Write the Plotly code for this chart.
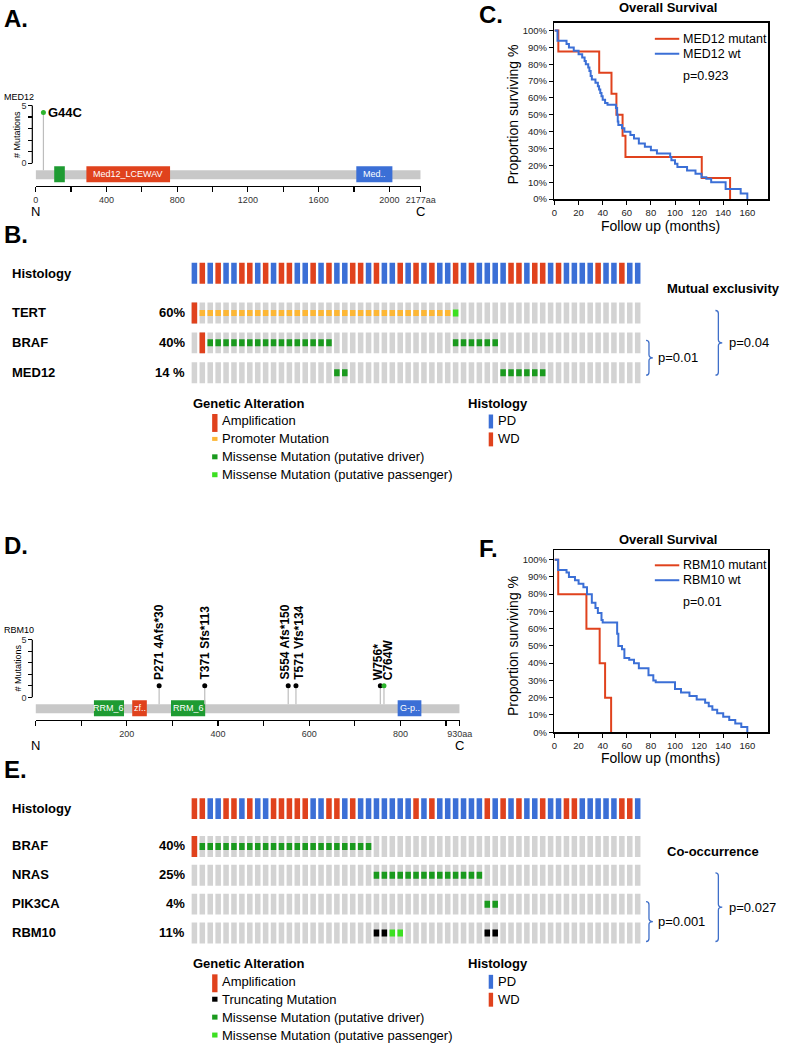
import plotly.graph_objects as go

W, H = 792, 1050
FONT = "Liberation Sans, Arial, Helvetica, sans-serif"


def px(x):
    return x / W


def py(y):
    return 1 - y / H


RED = "#E0421D"
BLUE = "#3B6FD6"
GRAY = "#D3D3D3"
ORANGE = "#FDB735"
GREEN_D = "#1A9A1E"
GREEN_P = "#3CE021"
BRACE_C = "#3F6FC9"
PROT_GRAY = "#C8C8C8"
DOM_GREEN = "#1E9B32"

# ---------------- DATA ----------------
# Panel A - MED12 lollipop
med12_length = 2177
med12_dom_names = ["", "Med12_LCEWAV", "Med.."]
med12_dom_start = [105, 287, 1813]
med12_dom_end = [165, 760, 2017]
med12_dom_kind = ["green", "red", "blue"]
med12_mut_label = ["G44C"]
med12_mut_pos = [44]
med12_mut_count = [4.4]
med12_mut_kind = ["missense"]
med12_ticks = [0, 200, 400, 600, 800, 1000, 1200, 1400, 1600, 1800, 2000, 2177]
med12_ticktext = ["0", "", "400", "", "800", "", "1200", "", "1600", "", "2000", "2177aa"]

# Panel D - RBM10 lollipop
rbm10_length = 930
rbm10_dom_names = ["RRM_6", "zf..", "RRM_6", "G-p.."]
rbm10_dom_start = [128, 212, 297, 794]
rbm10_dom_end = [194, 244, 372, 846]
rbm10_dom_kind = ["green", "red", "green", "blue"]
rbm10_mut_label = ["P271 4Afs*30", "T371 Sfs*113", "S554 Afs*150", "T571 Vfs*134", "W756*", "C764W"]
rbm10_mut_pos = [271, 371, 554, 571, 756, 764]
rbm10_mut_count = [1, 1, 1, 1, 1, 1]
rbm10_mut_kind = ["trunc", "trunc", "trunc", "trunc", "trunc", "missense"]
rbm10_label_shift = [0, 0, -3, 3, -3, 4]
rbm10_ticks = [0, 100, 200, 300, 400, 500, 600, 700, 800, 900, 930]
rbm10_ticktext = ["", "", "200", "", "400", "", "600", "", "800", "", "930aa"]

# Panel C - Overall survival MED12
c_mut_t = [0, 3.2, 37.1, 47.3, 51.4, 56.5, 58.9, 122.2, 145.7]
c_mut_s = [100, 87.5, 75, 62.5, 50, 37.5, 25, 12.5, 0]
c_wt_t = [0, 2.5, 10, 12, 16, 20, 23, 25, 26, 28, 29, 30, 31, 34, 36, 37, 38, 39, 40, 42,
          44, 51, 52, 52.5, 53, 56, 58, 63, 66, 70, 75, 80, 85, 96, 97, 100, 102, 110, 117, 122,
          126, 130, 142, 154.5, 160]
c_wt_s = [100, 94, 92, 90, 88, 86, 84, 82, 80, 78, 76, 73, 71, 69, 67, 65, 63, 61, 59, 57,
          56, 54, 50, 46, 44, 42, 40, 38, 36, 33, 31, 29, 27, 25, 23, 21, 19, 17, 15, 13,
          12, 10, 6, 3.3, 0]
c_names = ["MED12 mutant", "MED12 wt"]
c_p = "p=0.923"

# Panel F - Overall survival RBM10
f_mut_t = [0, 3.1, 26.5, 37.5, 42, 47]
f_mut_s = [100, 80, 60, 40, 20, 0]
f_wt_t = [0, 3, 10, 12, 17, 20, 24, 27, 31, 34, 36, 39, 40, 52, 53, 56, 58, 62, 66, 70,
          78, 82, 84, 100, 105, 112, 118, 125, 128, 131, 135, 140, 145, 150, 155, 160]
f_wt_s = [100, 94, 92.5, 90, 88, 86, 84, 80, 75, 72, 69, 65, 63.5, 57, 50, 48, 43, 42, 40, 37,
          33, 30, 29, 25, 23, 21, 19, 17, 15, 13, 11, 9, 7, 5, 3, 0]
f_names = ["RBM10 mutant", "RBM10 wt"]
f_p = "p=0.01"

km_xticks = [0, 20, 40, 60, 80, 100, 120, 140, 160]
km_yticks = [0, 10, 20, 30, 40, 50, 60, 70, 80, 90, 100]

# Panel B - oncoprint (P = PD, W = WD; A amp, P promoter, M missense driver, m passenger, T truncating)
B_hist = "PWPWPPWWPWPWWPPWPWPPWWPWPPWPWPWPPWPWPPPPWWPWWPWPPPPWPPWPP"
B_genes = ["TERT", "BRAF", "MED12"]
B_pcts = ["60%", "40%", "14 %"]
B_rows = [
    "APPPPPPPPPPPPPPPPPPPPPPPPPPPPPPPPm.......................",
    ".AMMMMMMMMMMMMMMMM...............MMMMMM..................",
    "..................MM...................MMMMMM............",
]
B_pair_p = "p=0.01"
B_triple_p = "p=0.04"

# Panel E - oncoprint
E_hist = "WWPPWWPWPPWWWWWPPWWPWPPPPPPPWPWPPPPPPWPWPWPPWPPWWPPPPPWWP"
E_genes = ["BRAF", "NRAS", "PIK3CA", "RBM10"]
E_pcts = ["40%", "25%", "4%", "11%"]
E_rows = [
    "AMMMMMMMMMMMMMMMMMMMMMM..................................",
    ".......................MMMMMMMMMMMMMM....................",
    ".....................................MM..................",
    ".......................TTmm..........TT..................",
]
E_pair_p = "p=0.001"
E_triple_p = "p=0.027"

# ---------------- FIGURE ----------------
fig = go.Figure()
shapes = []
ann = []


def text(x, y, s, size=13, bold=False, color="black", xanchor="left", yanchor="middle",
         xref="paper", yref="paper", angle=0, xshift=0, yshift=0):
    if bold:
        s = "<b>" + s + "</b>"
    ann.append(dict(x=x, y=y, xref=xref, yref=yref, text=s, showarrow=False,
                    font=dict(size=size, color=color, family=FONT), xanchor=xanchor,
                    yanchor=yanchor, textangle=angle, xshift=xshift, yshift=yshift,
                    borderpad=0))


DOMC = {"green": DOM_GREEN, "red": RED, "blue": BLUE}

BAR_TOP, BAR_BOT = -0.6, -1.38
DOM_TOP, DOM_BOT = -0.26, -1.64


def lollipop(xr, yr, length, names, starts, ends, kinds, labels, pos, counts, mkinds,
             vertical_labels, shifts=None):
    shapes.append(dict(type="rect", xref=xr, yref=yr, x0=0, x1=length, y0=BAR_BOT, y1=BAR_TOP,
                       fillcolor=PROT_GRAY, line=dict(width=0), layer="below"))
    for nm, s, e, k in zip(names, starts, ends, kinds):
        shapes.append(dict(type="rect", xref=xr, yref=yr, x0=s, x1=e, y0=DOM_BOT, y1=DOM_TOP,
                           fillcolor=DOMC[k], line=dict(width=0), layer="below"))
        if nm:
            text((s + e) / 2, (DOM_TOP + DOM_BOT) / 2, nm, size=9, color="white",
                 xanchor="center", xref=xr, yref=yr)
    for p, c in zip(pos, counts):
        fig.add_trace(go.Scatter(x=[p, p], y=[c, BAR_TOP], mode="lines",
                                 line=dict(color="#BDBDBD", width=1.2), xaxis=xr, yaxis=yr,
                                 showlegend=False, hoverinfo="skip"))
    fig.add_trace(go.Scatter(x=pos, y=counts, mode="markers",
                             marker=dict(size=5, color=[("#000000" if k == "trunc" else "#2DB42D") for k in mkinds]),
                             xaxis=xr, yaxis=yr, showlegend=False, hoverinfo="skip"))
    for i, (lb, p, c) in enumerate(zip(labels, pos, counts)):
        if vertical_labels:
            text(p, c, lb, size=12, bold=True, xanchor="center", yanchor="bottom",
                 xref=xr, yref=yr, angle=-90, yshift=5, xshift=shifts[i])
        else:
            text(p, c, lb, size=13, bold=True, xanchor="left", xref=xr, yref=yr, xshift=4)


lollipop("x", "y", med12_length, med12_dom_names, med12_dom_start, med12_dom_end,
         med12_dom_kind, med12_mut_label, med12_mut_pos, med12_mut_count, med12_mut_kind, False)
lollipop("x2", "y2", rbm10_length, rbm10_dom_names, rbm10_dom_start, rbm10_dom_end,
         rbm10_dom_kind, rbm10_mut_label, rbm10_mut_pos, rbm10_mut_count, rbm10_mut_kind, True,
         rbm10_label_shift)


def lolli_axes(x0, x1, zero_y, length, ticks, ticktext, anchor):
    unit = 11.6
    top_px, bot_px = zero_y - 5.5 * unit, zero_y + 23
    xa = dict(domain=[px(x0), px(x1)], range=[0, length], anchor=anchor, showline=True,
              linecolor="black", linewidth=1.2, ticks="outside", ticklen=5, tickwidth=1.2,
              tickcolor="black", tickvals=ticks, ticktext=ticktext,
              tickfont=dict(size=9, color="#333", family=FONT), showgrid=False, zeroline=False,
              fixedrange=True)
    ya = dict(domain=[py(bot_px), py(top_px)], range=[-23 / unit, 5.5], anchor="free",
              position=px(30), showline=False, ticks="outside", ticklen=4, tickwidth=1.2,
              tickcolor="black", tickvals=[0, 1, 2, 3, 4, 5], ticktext=["0", "", "", "", "", "5"],
              tickfont=dict(size=9, color="#333", family=FONT), showgrid=False, zeroline=False,
              fixedrange=True)
    return xa, ya


xa1, ya1 = lolli_axes(33.4, 427.4, 164, med12_length, med12_ticks, med12_ticktext, "y")
xa2, ya2 = lolli_axes(33.3, 467.3, 700.7, rbm10_length, rbm10_ticks, rbm10_ticktext, "y2")
for yr in ["y", "y2"]:
    shapes.append(dict(type="line", xref="paper", yref=yr, x0=px(30), x1=px(30), y0=0, y1=5,
                       line=dict(color="black", width=1.2)))

text(px(0), py(97), "MED12", size=9)
text(px(15), py(135), "# Mutations", size=9, xanchor="center", angle=-90)
text(px(0), py(633), "RBM10", size=9)
text(px(15), py(671), "# Mutations", size=9, xanchor="center", angle=-90)
text(0, py(213), "N", size=13, xanchor="center", xref="x")
text(med12_length, py(213), "C", size=13, xanchor="center", xref="x")
text(0, py(749), "N", size=13, xanchor="center", xref="x2")
text(rbm10_length, py(749.5), "C", size=13, xanchor="center", xref="x2")


# ---------------- KM panels ----------------
def km(xr, yr, mt, ms, wt, ws):
    fig.add_trace(go.Scatter(x=mt, y=ms, mode="lines", line=dict(color=RED, width=2, shape="hv"),
                             xaxis=xr, yaxis=yr, showlegend=False, hoverinfo="skip"))
    fig.add_trace(go.Scatter(x=wt, y=ws, mode="lines", line=dict(color=BLUE, width=2, shape="hv"),
                             xaxis=xr, yaxis=yr, showlegend=False, hoverinfo="skip"))


km("x3", "y3", c_mut_t, c_mut_s, c_wt_t, c_wt_s)
km("x4", "y4", f_mut_t, f_mut_s, f_wt_t, f_wt_s)


def km_axes(top_px, zero_px, hundred_px, yname, xname):
    per = (zero_px - hundred_px) / 100
    xa = dict(domain=[px(564.3), px(783)], range=[0, (783 - 564.3) / 1.2333], anchor=yname,
              showline=True, mirror=True, linecolor="black", linewidth=1.5, ticks="outside",
              ticklen=4, tickwidth=1, tickcolor="black", tickvals=km_xticks,
              tickfont=dict(size=9.5, color="#222", family=FONT), showgrid=False, zeroline=False,
              fixedrange=True)
    ya = dict(domain=[py(zero_px), py(top_px)], range=[0, (zero_px - top_px) / per],
              anchor=xname, showline=True, mirror=True, linecolor="black",
              linewidth=1.5, ticks="outside", ticklen=4, tickwidth=1, tickcolor="black",
              tickvals=km_yticks, ticktext=[f"{v}%" for v in km_yticks],
              tickfont=dict(size=9.5, color="#222", family=FONT), showgrid=False,
              zeroline=False, fixedrange=True)
    return xa, ya


xa3, ya3 = km_axes(23, 200, 30.7, "y3", "x3")
xa4, ya4 = km_axes(553, 735.7, 562.3, "y4", "x4")


def km_text(title_y, leg_y, names, ptxt, ylab_y, xlab_y):
    text(px(680), py(title_y), "Overall Survival", size=13, bold=True, xanchor="center")
    for i, (nm, col) in enumerate(zip(names, [RED, BLUE])):
        yy = leg_y + 15 * i
        shapes.append(dict(type="line", xref="paper", yref="paper", x0=px(667), x1=px(692),
                           y0=py(yy), y1=py(yy), line=dict(color=col, width=2)))
        text(px(695), py(yy), nm, size=12.5)
    text(px(695), py(leg_y + 37), ptxt, size=12.5)
    text(px(522), py(ylab_y), "Proportion surviving %", size=14, xanchor="center", angle=-90)
    text(px(673), py(xlab_y), "Follow up (months)", size=14, xanchor="center")


km_text(7.5, 39, c_names, c_p, 115, 227)
km_text(542, 568, f_names, f_p, 649, 762)


# ---------------- oncoprints ----------------
def oncoprint(xr, yr, hist, hist_top, rows, row_tops, h=21):
    n = len(hist)
    cols = list(range(n))
    fig.add_trace(go.Bar(x=cols, y=[h] * n, base=[hist_top] * n, width=0.7,
                         marker=dict(color=[BLUE if c == "P" else RED for c in hist], line_width=0),
                         xaxis=xr, yaxis=yr, showlegend=False, hoverinfo="skip"))
    for r, top in zip(rows, row_tops):
        fig.add_trace(go.Bar(x=cols, y=[h] * n, base=[top] * n, width=0.7,
                             marker=dict(color=GRAY, line_width=0), xaxis=xr, yaxis=yr,
                             showlegend=False, hoverinfo="skip"))
        for code, color, hh in [("A", RED, h), ("P", ORANGE, 6), ("M", GREEN_D, 7),
                                ("m", GREEN_P, 7), ("T", "black", 7)]:
            idx = [i for i, c in enumerate(r) if c == code]
            if idx:
                fig.add_trace(go.Bar(x=idx, y=[hh] * len(idx), base=[top + (h - hh) / 2] * len(idx),
                                     width=0.7, marker=dict(color=color, line_width=0),
                                     xaxis=xr, yaxis=yr, showlegend=False, hoverinfo="skip"))


B_hist_top, B_row_tops = 264, [304, 334, 364]
E_hist_top, E_row_tops = 802, [840, 869, 898, 927]
oncoprint("x5", "y5", B_hist, B_hist_top, B_rows, B_row_tops)
oncoprint("x6", "y6", E_hist, E_hist_top, E_rows, E_row_tops)

xa5 = dict(domain=[px(191.8), px(653.5)], range=[-0.5, 56.5], visible=False, anchor="y5",
           fixedrange=True)
ya5 = dict(domain=[py(392), py(258)], range=[392, 258], visible=False, anchor="x5",
           fixedrange=True)
xa6 = dict(domain=[px(191.8), px(653.5)], range=[-0.5, 56.5], visible=False, anchor="y6",
           fixedrange=True)
ya6 = dict(domain=[py(954), py(796)], range=[954, 796], visible=False, anchor="x6",
           fixedrange=True)


def onco_labels(hist_top, row_tops, genes, pcts):
    text(px(8), py(hist_top + 10.5), "Histology", size=13, bold=True)
    for g, p, t in zip(genes, pcts, row_tops):
        text(px(8), py(t + 10), g, size=13, bold=True)
        text(px(187), py(t + 10), p, size=13, bold=True, xanchor="right")


onco_labels(B_hist_top, B_row_tops, B_genes, B_pcts)
onco_labels(E_hist_top, E_row_tops, E_genes, E_pcts)


def icon(kind, yc):
    spec = {"amp": (RED, 18), "prom": (ORANGE, 4), "mis_d": (GREEN_D, 5), "mis_p": (GREEN_P, 5),
            "trunc": ("black", 5)}
    col, hh = spec[kind]
    shapes.append(dict(type="rect", xref="paper", yref="paper", x0=px(214), x1=px(219.5),
                       y0=py(yc + hh / 2), y1=py(yc - hh / 2), fillcolor=col, line=dict(width=0)))


def onco_legend(top, items):
    text(px(193), py(top), "Genetic Alteration", size=13, bold=True)
    for i, (kind, lab) in enumerate(items):
        yy = top + 18 * (i + 1)
        icon(kind, yy + (2 if kind == "amp" else 0))
        text(px(223), py(yy), lab, size=13)
    text(px(475), py(top), "Histology", size=13, bold=True)
    for i, (lab, col) in enumerate([("PD", BLUE), ("WD", RED)]):
        yy = top + 18 * (i + 1)
        shapes.append(dict(type="rect", xref="paper", yref="paper", x0=px(497), x1=px(501.5),
                           y0=py(yy + 7.5), y1=py(yy - 6.5), fillcolor=col, line=dict(width=0)))
        text(px(505), py(yy), lab, size=13)


onco_legend(405, [("amp", "Amplification"), ("prom", "Promoter Mutation"),
                  ("mis_d", "Missense Mutation (putative driver)"),
                  ("mis_p", "Missense Mutation (putative passenger)")])
onco_legend(968, [("amp", "Amplification"), ("trunc", "Truncating Mutation"),
                  ("mis_d", "Missense Mutation (putative driver)"),
                  ("mis_p", "Missense Mutation (putative passenger)")])


def brace(x0, ytop, ybot, w=7, c=3):
    ym = (ytop + ybot) / 2
    X = px
    Y = py
    path = (f"M {X(x0)},{Y(ytop)} Q {X(x0 + c)},{Y(ytop)} {X(x0 + c)},{Y(ytop + c)} "
            f"L {X(x0 + c)},{Y(ym - c)} Q {X(x0 + c)},{Y(ym)} {X(x0 + w)},{Y(ym)} "
            f"Q {X(x0 + c)},{Y(ym)} {X(x0 + c)},{Y(ym + c)} L {X(x0 + c)},{Y(ybot - c)} "
            f"Q {X(x0 + c)},{Y(ybot)} {X(x0)},{Y(ybot)}")
    shapes.append(dict(type="path", xref="paper", yref="paper", path=path,
                       line=dict(color=BRACE_C, width=1.3)))


brace(658, 342, 377)
brace(729, 312, 377)
text(px(669), py(359.5), B_pair_p, size=13)
text(px(742), py(344.5), B_triple_p, size=13)
text(px(678), py(290), "Mutual exclusivity", size=13, bold=True)

brace(658, 906, 946)
brace(729, 877, 946)
text(px(669), py(926), E_pair_p, size=13)
text(px(742), py(911.5), E_triple_p, size=13)
text(px(678), py(856), "Co-occurrence", size=13, bold=True)

for lab, x, y in [("A.", 0, 18.5), ("B.", 0, 236), ("C.", 486, 15), ("D.", 0, 548.5),
                  ("E.", 0, 773), ("F.", 486, 551)]:
    text(px(x), py(y), lab, size=24, bold=True)

fig.update_layout(
    width=W, height=H, margin=dict(l=0, r=0, t=0, b=0), paper_bgcolor="white",
    plot_bgcolor="rgba(0,0,0,0)", barmode="overlay", showlegend=False,
    font=dict(family=FONT, color="black"),
    xaxis=xa1, yaxis=ya1, xaxis2=xa2, yaxis2=ya2, xaxis3=xa3, yaxis3=ya3,
    xaxis4=xa4, yaxis4=ya4, xaxis5=xa5, yaxis5=ya5, xaxis6=xa6, yaxis6=ya6,
    shapes=shapes, annotations=ann,
)

# Remove the default page margin and fit the (paper-relative) figure to the window.
POST = (
    "document.documentElement.style.margin='0';"
    "document.documentElement.style.overflow='hidden';"
    "document.body.style.margin='0';"
    "document.body.style.overflow='hidden';"
    "var gd=document.getElementById('{plot_id}');"
    "var w=window.innerWidth||792, h=window.innerHeight||1050;"
    "if(Math.abs(w-792)>1||Math.abs(h-1050)>1){"
    "gd.style.width=w+'px';gd.style.height=h+'px';"
    "Plotly.relayout(gd,{width:w,height:h});}"
    "window.scrollTo(0,0);"
)
fig.write_html("out.html", config={"displayModeBar": False, "staticPlot": True},
               post_script=POST)
